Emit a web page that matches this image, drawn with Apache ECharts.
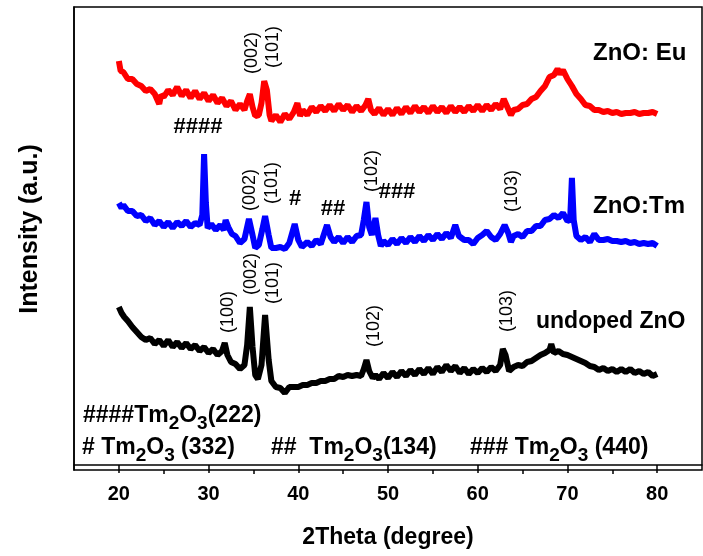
<!DOCTYPE html>
<html>
<head>
<meta charset="utf-8">
<script src="https://cdn.jsdelivr.net/npm/echarts@6/dist/echarts.min.js"></script>
<style>
  html, body { margin: 0; padding: 0; background: #fff; }
  #xrd { width: 703px; height: 556px; }
</style>
</head>
<body>
<div id="xrd"></div>
<script>
// 2theta positions and intensities (a.u., offset stacked)
const euTheta = [20.0, 20.2, 20.5, 21.0, 21.5, 22.0, 22.5, 23.0, 23.5, 24.0, 24.5, 24.7, 25.0, 25.5, 26.0, 26.5, 27.0, 27.5, 28.0, 28.5,
  29.0, 29.5, 30.0, 30.5, 31.0, 31.5, 32.0, 32.5, 33.0, 33.5, 34.0, 34.3, 34.6, 34.9, 35.2, 35.6, 35.9, 36.2, 36.5, 36.8,
  37.0, 37.5, 38.0, 38.5, 39.0, 39.5, 39.9, 40.2, 40.5, 41.0, 41.5, 42.0, 42.5, 43.0, 43.5, 44.0, 44.5, 45.0, 45.5, 46.0,
  46.5, 47.0, 47.5, 47.8, 48.1, 48.5, 49.0, 49.5, 50.0, 50.5, 51.0, 51.5, 52.0, 52.5, 53.0, 53.5, 54.0, 54.5, 55.0, 55.5,
  56.0, 56.5, 57.0, 57.5, 58.0, 58.5, 59.0, 59.5, 60.0, 60.5, 61.0, 61.5, 62.0, 62.5, 62.9, 63.3, 63.7, 64.0, 64.5, 65.0,
  65.5, 66.0, 66.5, 67.0, 67.5, 68.0, 68.5, 68.9, 69.2, 69.5, 70.0, 70.5, 71.0, 71.5, 72.0, 72.5, 73.0, 73.5, 74.0, 74.5,
  75.0, 75.5, 76.0, 76.5, 77.0, 77.5, 78.0, 78.5, 79.0, 79.5, 80.0]
const euInt = [404, 394, 393, 386, 386, 381, 379, 374, 376, 371, 361, 370, 368, 375, 370, 378, 369, 375, 367, 374,
  366, 372, 364, 370, 362, 367, 359, 364, 355, 361, 355, 364, 371, 358, 349, 350, 362, 384, 375, 350,
  344, 350, 343, 351, 346, 353, 362, 349, 355, 350, 358, 353, 359, 354, 360, 354, 361, 355, 360, 353,
  359, 354, 360, 366, 355, 351, 357, 350, 356, 350, 357, 351, 358, 352, 359, 353, 358, 352, 359, 353,
  358, 352, 359, 353, 358, 353, 359, 354, 360, 354, 360, 355, 361, 356, 366, 358, 350, 355, 356, 360,
  361, 366, 368, 374, 379, 388, 390, 396, 391, 395, 386, 379, 371, 366, 360, 359, 355, 355, 353, 354,
  352, 353, 351, 352, 352, 353, 351, 352, 352, 353, 351]

const tmTheta = [20.0, 20.3, 20.5, 21.0, 21.5, 22.0, 22.5, 23.0, 23.5, 24.0, 24.5, 25.0, 25.5, 26.0, 26.5, 27.0, 27.5, 28.0, 28.5, 29.0,
  29.3, 29.5, 29.7, 29.9, 30.3, 30.8, 31.3, 31.7, 31.9, 32.2, 32.6, 33.0, 33.5, 34.0, 34.5, 34.9, 35.2, 35.6, 36.0, 36.3,
  36.7, 37.0, 37.5, 38.0, 38.5, 39.0, 39.6, 40.0, 40.4, 41.0, 41.5, 42.0, 42.5, 43.2, 43.6, 44.0, 44.5, 45.0, 45.5, 46.0,
  46.5, 47.0, 47.3, 47.6, 47.9, 48.2, 48.6, 48.9, 49.2, 49.5, 50.0, 50.5, 51.0, 51.5, 52.0, 52.5, 53.0, 53.5, 54.0, 54.5,
  55.0, 55.5, 56.0, 56.5, 57.0, 57.5, 57.9, 58.5, 59.0, 59.5, 60.0, 60.5, 61.0, 61.5, 62.0, 62.5, 63.0, 63.4, 63.7, 64.0,
  64.5, 65.0, 65.5, 66.0, 66.5, 67.0, 67.5, 68.0, 68.5, 69.0, 69.5, 70.0, 70.3, 70.5, 70.7, 71.0, 71.5, 72.0, 72.5, 73.0,
  73.5, 74.0, 74.5, 75.0, 75.5, 76.0, 76.5, 77.0, 77.5, 78.0, 78.5, 79.0, 79.5, 80.0]
const tmInt = [262, 257, 260, 254, 254, 249, 250, 244, 247, 240, 244, 238, 243, 237, 243, 239, 244, 238, 242, 240,
  250, 311, 262, 237, 241, 235, 240, 235, 245, 238, 231, 229, 222, 226, 246, 230, 217, 220, 236, 249,
  230, 217, 217, 218, 216, 222, 241, 225, 218, 223, 219, 225, 221, 240, 228, 223, 228, 222, 228, 223,
  229, 230, 245, 263, 238, 230, 247, 230, 219, 224, 220, 226, 221, 227, 222, 228, 223, 229, 224, 230,
  225, 231, 226, 232, 227, 240, 229, 225, 225, 221, 227, 230, 234, 228, 225, 231, 240, 232, 223, 229,
  231, 228, 234, 234, 239, 239, 245, 246, 250, 247, 252, 244, 245, 287, 245, 229, 225, 228, 223, 231,
  225, 225, 226, 224, 224, 223, 224, 222, 223, 221, 222, 221, 222, 219]

const znoTheta = [20.0, 20.3, 20.6, 21.0, 21.5, 22.0, 22.5, 23.0, 23.5, 24.0, 24.5, 25.0, 25.5, 26.0, 26.5, 27.0, 27.5, 28.0, 28.5, 29.0,
  29.5, 30.0, 30.5, 31.0, 31.5, 31.8, 32.1, 32.5, 33.0, 33.5, 34.0, 34.3, 34.6, 34.9, 35.2, 35.5, 35.9, 36.3, 36.7, 37.0,
  37.5, 38.0, 38.5, 39.0, 39.5, 40.0, 40.5, 41.0, 41.5, 42.0, 42.5, 43.0, 43.5, 44.0, 44.5, 45.0, 45.5, 46.0, 46.5, 47.0,
  47.3, 47.6, 47.9, 48.3, 48.6, 49.0, 49.5, 50.0, 50.5, 51.0, 51.5, 52.0, 52.5, 53.0, 53.5, 54.0, 54.5, 55.0, 55.5, 56.0,
  56.5, 57.0, 57.5, 58.0, 58.5, 59.0, 59.5, 60.0, 60.5, 61.0, 61.5, 62.0, 62.5, 62.8, 63.1, 63.5, 64.0, 64.5, 65.0, 65.5,
  66.0, 66.5, 67.0, 67.5, 68.0, 68.2, 68.5, 69.0, 69.5, 70.0, 70.5, 71.0, 71.5, 72.0, 72.5, 73.0, 73.5, 74.0, 74.5, 75.0,
  75.5, 76.0, 76.5, 77.0, 77.5, 78.0, 78.5, 79.0, 79.5, 80.0]
const znoInt = [158, 152, 148, 144, 138, 133, 128, 125, 127, 121, 125, 119, 125, 118, 123, 117, 122, 116, 120, 114,
  118, 112, 116, 110, 114, 122, 110, 103, 101, 96, 100, 120, 158, 118, 90, 86, 100, 150, 105, 84,
  78, 77, 72, 78, 78, 78, 80, 80, 82, 82, 84, 84, 86, 86, 89, 88, 90, 89, 90, 89,
  96, 105, 94, 87, 90, 86, 92, 87, 93, 88, 94, 89, 95, 90, 96, 91, 97, 91, 98, 93,
  100, 94, 99, 92, 97, 91, 96, 92, 97, 93, 98, 94, 100, 116, 110, 94, 98, 100, 99, 103,
  104, 107, 110, 112, 115, 121, 112, 114, 111, 110, 108, 106, 104, 102, 99, 98, 95, 97, 94, 96,
  93, 96, 93, 96, 92, 94, 91, 93, 89, 91]

const xTicks = [20, 30, 40, 50, 60, 70, 80]
const xMinorTicks = [25, 35, 45, 55, 65, 75]

const chart = echarts.init(document.getElementById('xrd'))

const FONT = '"Liberation Sans", Arial, sans-serif'
const pair = (xs, ys) => xs.map((x, i) => [x, ys[i]])
const txt = (text, x, y, opt) => ({
  type: 'text',
  x: x,
  y: y,
  rotation: opt && opt.rot ? Math.PI / 2 : 0,
  style: Object.assign({
    text: text,
    fill: '#000',
    font: '18px ' + FONT,
    align: 'center',
    verticalAlign: 'middle'
  }, opt && opt.style)
})
const hkl = (text, x, y) => txt(text, x, y, { rot: true })
const bold = (text, x, y, size, align) => txt(text, x, y, {
  style: { font: 'bold ' + size + 'px ' + FONT, align: align || 'center' }
})
// Tm2O3 lines with lowered subscripts
const richStyle = {
  m: { fontFamily: FONT, fontWeight: 'bold', fontSize: 23, lineHeight: 24, verticalAlign: 'top' },
  s: { fontFamily: FONT, fontWeight: 'bold', fontSize: 19, lineHeight: 19, padding: [10, 0, 0, 0], verticalAlign: 'top' }
}
const legendLine = (text, x, y) => ({
  type: 'text',
  x: x,
  y: y,
  style: { text: text, rich: richStyle, fill: '#000', align: 'left', verticalAlign: 'top' }
})

const option = {
  animation: false,
  backgroundColor: '#fff',
  grid: {
    left: 74,
    right: 1,
    top: 7,
    bottom: 86,
    show: true,
    borderColor: '#000',
    borderWidth: 1.5
  },
  xAxis: [
    {
      type: 'value',
      min: 15,
      max: 85,
      interval: 5,
      name: '2Theta (degree)',
      nameLocation: 'middle',
      nameGap: 56,
      nameTextStyle: { fontFamily: FONT, fontWeight: 'bold', fontSize: 23, color: '#000' },
      axisLine: { show: true, lineStyle: { color: '#000', width: 1.5 } },
      axisTick: { show: true, customValues: xTicks, length: 8, lineStyle: { color: '#000', width: 1.5 } },
      axisLabel: {
        customValues: xTicks,
        margin: 14,
        fontFamily: FONT,
        fontWeight: 'bold',
        fontSize: 20,
        color: '#000'
      },
      splitLine: { show: false }
    },
    {
      // minor ticks, flipped to the top by the grid, moved back down to the bottom edge
      type: 'value',
      min: 15,
      max: 85,
      interval: 5,
      position: 'top',
      offset: -463,
      axisLine: { show: false },
      axisTick: { show: true, inside: true, customValues: xMinorTicks, length: 4, lineStyle: { color: '#000', width: 1.5 } },
      axisLabel: { show: false },
      splitLine: { show: false }
    }
  ],
  yAxis: {
    type: 'value',
    min: -5,
    max: 458,
    axisLine: { show: true, lineStyle: { color: '#000', width: 1.5 } },
    axisTick: { show: false },
    axisLabel: { show: false },
    splitLine: { show: false }
  },
  series: [
    {
      name: 'ZnO: Eu',
      type: 'line',
      data: pair(euTheta, euInt),
      showSymbol: false,
      lineStyle: { color: '#ff0000', width: 6 }
    },
    {
      name: 'ZnO:Tm',
      type: 'line',
      data: pair(tmTheta, tmInt),
      showSymbol: false,
      lineStyle: { color: '#0000ff', width: 6 }
    },
    {
      name: 'undoped ZnO',
      type: 'line',
      data: pair(znoTheta, znoInt),
      showSymbol: false,
      lineStyle: { color: '#000000', width: 6 }
    }
  ],
  graphic: [
    // y axis title
    txt('Intensity (a.u.)', 30, 229, { rot: true, style: { font: 'bold 25px ' + FONT } }),
    // ZnO: Eu
    hkl('(002)', 252, 53),
    hkl('(101)', 273, 47),
    bold('ZnO: Eu', 593, 53, 24, 'left'),
    // ZnO:Tm
    bold('####', 198, 127, 22),
    hkl('(002)', 250, 190),
    hkl('(101)', 272, 183),
    bold('#', 295, 199, 22),
    bold('##', 333, 209, 22),
    hkl('(102)', 372, 171),
    bold('###', 397, 192, 22),
    hkl('(103)', 512, 191),
    bold('ZnO:Tm', 593, 206, 24, 'left'),
    // undoped
    hkl('(100)', 228, 312),
    hkl('(002)', 251, 274),
    hkl('(101)', 273, 283),
    hkl('(102)', 374, 326),
    hkl('(103)', 507, 311),
    bold('undoped ZnO', 536, 322, 23, 'left'),
    // phase key
    legendLine('{m|####Tm}{s|2}{m|O}{s|3}{m|(222)}', 83, 404),
    legendLine('{m|# Tm}{s|2}{m|O}{s|3}{m| (332)}', 82, 436),
    legendLine('{m|##  Tm}{s|2}{m|O}{s|3}{m|(134)}', 271, 436),
    legendLine('{m|### Tm}{s|2}{m|O}{s|3}{m| (440)}', 470, 436)
  ]
}

chart.setOption(option)
</script>
</body>
</html>
